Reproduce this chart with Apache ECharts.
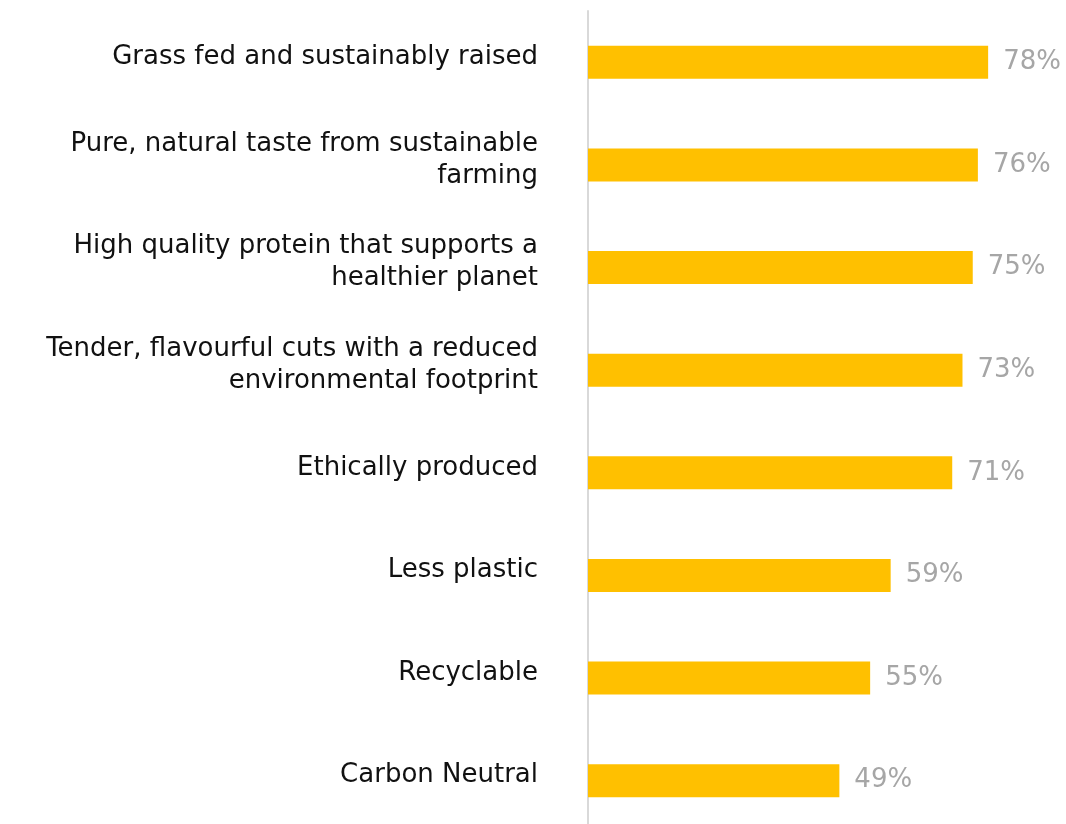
<!DOCTYPE html>
<html>
<head>
<meta charset="utf-8">
<script src="https://cdn.jsdelivr.net/npm/echarts@6/dist/echarts.min.js"></script>
<style>
  html, body { margin: 0; padding: 0; background: #ffffff; }
  #chart { width: 1066px; height: 824px; }
</style>
</head>
<body>
<div id="chart"></div>
<script>
// Product attributes, top to bottom
const categories = [
  'Grass fed and sustainably raised',
  'Pure, natural taste from sustainable\nfarming',
  'High quality protein that supports a\nhealthier planet',
  'Tender, flavourful cuts with a reduced\nenvironmental footprint',
  'Ethically produced',
  'Less plastic',
  'Recyclable',
  'Carbon Neutral'
];

// Share of respondents (%)
const values = [78, 76, 75, 73, 71, 59, 55, 49];

const FONT = '"DejaVu Sans", Inter, sans-serif';

const chart = echarts.init(document.getElementById('chart'), null, { renderer: 'canvas' });

chart.setOption({
  backgroundColor: '#ffffff',
  animation: false,
  grid: [
    // plotting area for the bars
    { left: 588, top: 11, width: 513, height: 821, outerBoundsMode: 'none', containLabel: false },
    // category labels sit slightly higher than the bar centres
    { left: 588, top: 6, width: 513, height: 821, outerBoundsMode: 'none', containLabel: false }
  ],
  xAxis: [
    { type: 'value', gridIndex: 0, min: 0, max: 100, show: false },
    { type: 'value', gridIndex: 1, min: 0, max: 100, show: false }
  ],
  yAxis: [
    {
      type: 'category',
      gridIndex: 0,
      data: categories,
      inverse: true,
      axisLine: { show: true, lineStyle: { color: '#d9d9d9', width: 2 } },
      axisTick: { show: false },
      splitLine: { show: false },
      axisLabel: { show: false }
    },
    {
      type: 'category',
      gridIndex: 1,
      data: categories,
      inverse: true,
      axisLine: { show: false },
      axisTick: { show: false },
      splitLine: { show: false },
      axisLabel: {
        margin: 50,
        color: '#111111',
        fontFamily: FONT,
        fontSize: 26,
        lineHeight: 32,
        align: 'right'
      }
    }
  ],
  series: [{
    type: 'bar',
    xAxisIndex: 0,
    yAxisIndex: 0,
    data: values,
    barWidth: 33,
    itemStyle: { color: '#FFC000' },
    label: {
      show: true,
      position: 'right',
      distance: 15,
      formatter: '{c}%',
      color: '#a6a6a6',
      fontFamily: FONT,
      fontSize: 26
    }
  }]
});
</script>
</body>
</html>
